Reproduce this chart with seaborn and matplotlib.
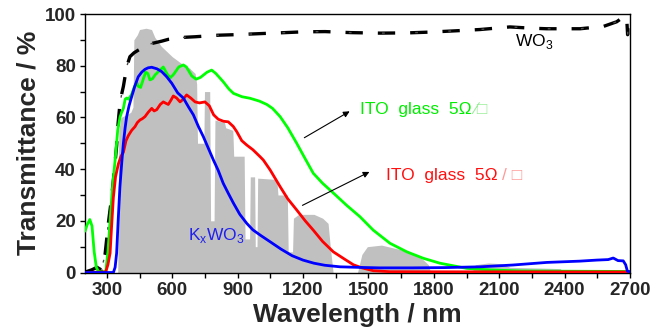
import numpy as np
import pandas as pd
import matplotlib
matplotlib.use("Agg")
import matplotlib.pyplot as plt
from matplotlib.ticker import MultipleLocator
import seaborn as sns

# solar spectrum (grey background), scaled to the % axis
sun_wl = [340, 350, 355, 365, 390, 410, 420, 424, 440, 450, 480, 505, 520, 550, 600,
          640, 680, 705, 712, 716, 745, 748, 772, 776, 792, 796, 840, 845, 878, 882,
          930, 934, 955, 958, 978, 981, 989, 992, 1080, 1085, 1128, 1132, 1152, 1156,
          1180, 1250, 1290, 1315, 1325, 1338, 1450, 1470, 1495, 1560, 1640, 1700, 1750,
          1775, 1785, 1975, 1990, 2050, 2110, 2150, 2300, 2380, 2395, 2700]
sun_val = [0, 0, 55, 60, 61, 62, 64, 90, 92, 94, 94.5, 94, 91, 87.5, 83.5,
           81, 79, 77, 73, 50, 50, 70, 70, 20, 20, 59, 58, 56, 55, 45,
           45, 13, 13, 37, 37, 10, 10, 36.5, 36, 30, 30, 8, 8, 21,
           22.5, 22.5, 21, 19, 10, 0, 0, 7, 10, 10.6, 9, 7.5, 5,
           3, 0, 0, 3, 3.7, 3.4, 2, 1.7, 1.5, 0, 0]

wo3_wl = [205, 230, 255, 275, 292, 307, 322, 335, 345, 352, 360, 368, 376, 384, 391,
          406, 425, 444, 475, 506, 552, 582, 659, 705, 811, 888, 1000, 1117, 1200,
          1301, 1420, 1553, 1680, 1782, 1900, 2012, 2149, 2250, 2318, 2471, 2578,
          2639, 2677, 2685, 2689, 2693, 2700]
wo3_t = [0.3, 1, 2, 1, 7, 19, 29, 40, 49, 58, 65, 69, 72, 76, 79.6,
         83.5, 85, 86, 87.5, 88.6, 89.5, 90.2, 91, 91.2, 91.8, 92, 92.4, 92.8, 93.1,
         93.2, 92.8, 92.6, 92.7, 93, 93.5, 94, 95, 94.5, 94.3, 94.3, 95.2,
         97, 99.3, 98, 92, 99, 99]

ito1_wl = [200, 210, 222, 232, 242, 252, 262, 295, 305, 315, 325, 338, 350, 360, 368,
           376, 384, 391, 400, 414, 425, 437, 445, 455, 468, 478, 488, 498, 510, 521,
           540, 559, 575, 590, 605, 630, 651, 665, 690, 710, 730, 760, 781, 800, 834,
           860, 881, 920, 957, 1000, 1034, 1060, 1095, 1130, 1171, 1210, 1247, 1290,
           1345, 1400, 1461, 1522, 1599, 1676, 1752, 1828, 1951, 2058, 2200, 2400, 2700]
ito1_t = [16, 18.5, 20.5, 18, 8, 2, 0.3, 0.3, 8, 20, 32, 43.5, 55, 60, 62,
          63.5, 67, 67.5, 67, 69, 71.5, 73.5, 72, 71.6, 75, 77.5, 77, 74.5, 75, 76.4,
          78, 79.5, 77, 75.3, 76.5, 79.5, 80.3, 79.5, 76, 74.8, 75.5, 77.5, 78.3, 77, 73.8,
          71, 69.3, 68, 67.4, 66.3, 65, 63.5, 60.3, 56, 50, 44, 38.4, 34.5,
          30.3, 26, 21.6, 16.4, 11.3, 8, 5.5, 3.6, 1.6, 1, 0.6, 0.5, 0.4]

ito2_wl = [200, 295, 305, 315, 322, 330, 340, 353, 365, 376, 388, 399, 414, 429, 440,
           452, 463, 475, 490, 506, 517, 529, 545, 559, 570, 582, 593, 605, 620, 636,
           650, 666, 685, 705, 725, 750, 770, 790, 811, 835, 857, 880, 896, 919, 942,
           970, 1003, 1018, 1049, 1095, 1130, 1171, 1210, 1247, 1290, 1339, 1390, 1431,
           1470, 1522, 1600, 2700]
ito2_t = [0, 0.2, 3, 7.5, 18, 29, 37, 42, 45, 46.5, 51, 53, 55, 56.4, 58,
          59, 59.5, 60.3, 62, 63.5, 62.5, 63, 65, 66, 65.5, 65, 66.5, 68.3, 67.5, 66,
          67, 68.7, 67.5, 66, 65.6, 66, 64.5, 61, 59.3, 58.5, 58.3, 56.5, 54.5, 51, 49.3,
          47.5, 44.8, 43.5, 39.7, 33.2, 28.5, 24.2, 20, 16.4, 12, 8, 5.2, 3,
          1.8, 0.7, 0.3, 0.2]

kwo3_wl = [200, 330, 338, 345, 352, 360, 368, 376, 384, 391, 402, 414, 428, 444, 460,
           475, 490, 506, 530, 552, 575, 598, 625, 651, 675, 697, 720, 743, 766, 789,
           811, 834, 858, 881, 910, 942, 970, 1003, 1049, 1100, 1150, 1200, 1250, 1300,
           1370, 1450, 1550, 1700, 1850, 2012, 2163, 2318, 2470, 2547, 2600, 2623,
           2645, 2669, 2680, 2688, 2700]
kwo3_t = [0, 0, 2, 7.5, 20, 33, 42, 50, 56, 60.3, 64.5, 68, 72, 75.7, 77.5,
          78.6, 79.2, 79.4, 78.8, 77.7, 75.7, 73.2, 69.5, 67.5, 64, 61, 56.5, 52.5, 48, 43.5,
          39.5, 34.5, 30.5, 26.8, 22.5, 19, 16.5, 14.5, 11.9, 9, 6.5, 4.8, 3.6, 2.8,
          2.2, 2, 1.8, 1.8, 1.9, 2.2, 2.9, 3.9, 4.4, 4.8, 5.0, 5.6, 4.6, 4.5, 3, 0.5, 0.3]

sns.set_style("ticks")
plt.rcParams["font.family"] = ["Liberation Sans", "DejaVu Sans"]
plt.rcParams["mathtext.fontset"] = "custom"
plt.rcParams["mathtext.rm"] = "Liberation Sans"

fig = plt.figure(figsize=(6.53, 3.32), dpi=100)
ax = fig.add_axes([0.1302, 0.1792, 0.8346, 0.7786])

ax.fill_between(sun_wl, 0, sun_val, color="#c0c0c0", lw=0, zorder=1)

wo3 = pd.DataFrame({"wl": wo3_wl, "T": wo3_t})
sns.lineplot(data=wo3, x="wl", y="T", ax=ax, color="black", lw=2.4,
             linestyle=(0, (5.2, 4.5)), estimator=None, zorder=3)
# thin dots between the dashes
ax.plot(wo3_wl, wo3_t, color="0.3", lw=1.0, linestyle=(6.3, (2.0, 21.9)), zorder=3)

sns.lineplot(data=pd.DataFrame({"wl": ito1_wl, "T": ito1_t}), x="wl", y="T", ax=ax,
             color="#00ff00", lw=2, estimator=None, zorder=4)
sns.lineplot(data=pd.DataFrame({"wl": ito2_wl, "T": ito2_t}), x="wl", y="T", ax=ax,
             color="#ff0000", lw=2, estimator=None, zorder=5)
sns.lineplot(data=pd.DataFrame({"wl": kwo3_wl, "T": kwo3_t}), x="wl", y="T", ax=ax,
             color="#0000ff", lw=2, estimator=None, zorder=6)

ax.set_xlim(200, 2700)
ax.set_ylim(0, 100)
ax.set_xticks(range(300, 2701, 300))
ax.xaxis.set_minor_locator(MultipleLocator(150))
ax.set_yticks(range(0, 101, 20))
ax.yaxis.set_minor_locator(MultipleLocator(10))
ax.tick_params(which="both", direction="out", length=3.5, width=1, color="black",
               top=False, right=False)
ax.tick_params(which="major", labelsize=13.5, pad=3)
for lab in ax.get_xticklabels() + ax.get_yticklabels():
    lab.set_fontweight("bold")
for sp in ax.spines.values():
    sp.set_visible(True)
    sp.set_linewidth(1.0)
    sp.set_color("black")

ax.set_xlabel("Wavelength / nm", fontsize=19, fontweight="bold", labelpad=3)
ax.set_ylabel("Transmittance / %", fontsize=19, fontweight="bold", labelpad=3)

# annotations
ax.annotate("", xy=(1425, 62.9), xytext=(1195, 51.6),
            arrowprops=dict(arrowstyle="-|>", color="black", lw=0.8,
                            mutation_scale=9), zorder=7)
ax.annotate("", xy=(1516, 39.4), xytext=(1186, 25.5),
            arrowprops=dict(arrowstyle="-|>", color="black", lw=0.8,
                            mutation_scale=9), zorder=7)

t1 = ax.text(1461, 62.9, "ITO  glass  5\u03a9", color="#00ee00", fontsize=12.5,
             va="center", ha="left", zorder=8)
ax.annotate("\u2215\u25a1", xy=(1, 0.5), xycoords=t1, xytext=(2, 0),
            textcoords="offset points", color="#99ee99", fontsize=12.5,
            va="center", ha="left", zorder=8)
t2 = ax.text(1581, 37.7, "ITO  glass  5\u03a9", color="#ff1010", fontsize=12.5,
             va="center", ha="left", zorder=8)
ax.annotate("/ \u25a1", xy=(1, 0.5), xycoords=t2, xytext=(3, 0),
            textcoords="offset points", color="#ff9999", fontsize=12.5,
            va="center", ha="left", zorder=8)

ax.text(672, 14.5, r"K$_\mathregular{x}$WO$_\mathregular{3}$", color="#2020ee",
        fontsize=12.5, va="center", ha="left", zorder=8)
ax.text(2172, 89.5, r"WO$_\mathregular{3}$", color="black", fontsize=12.5,
        va="center", ha="left", zorder=8)

fig.savefig("out.png", dpi=100)
